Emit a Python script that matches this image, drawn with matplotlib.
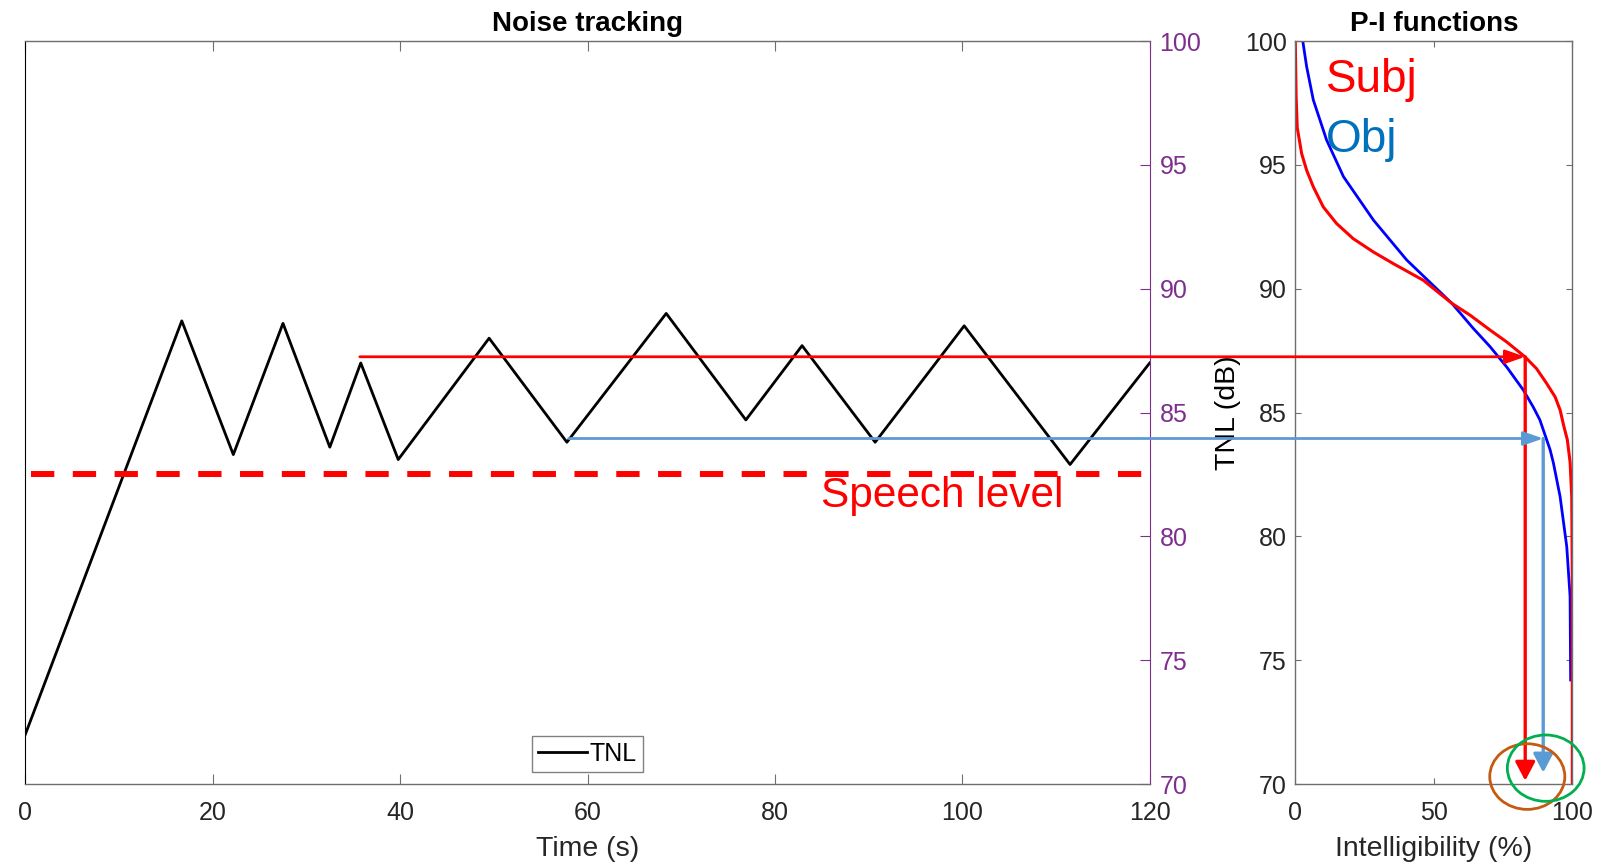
import matplotlib
matplotlib.use('Agg')
import matplotlib.pyplot as plt
from matplotlib.patches import ConnectionPatch, Ellipse

plt.rcParams['font.family'] = ['Liberation Sans', 'DejaVu Sans']

# tracked noise level over time
tnl_time = [0, 16.7, 22.2, 27.5, 32.5, 35.8, 39.8, 49.5, 57.8, 68.4,
            76.9, 82.9, 90.7, 100.2, 111.5, 120]
tnl_level = [72.0, 88.7, 83.3, 88.6, 83.6, 87.0, 83.1, 88.0, 83.8, 89.0,
             84.7, 87.7, 83.8, 88.5, 82.9, 87.0]
speech_level = 82.5

# P-I functions (intelligibility %, TNL dB)
subj_pct = [0, 0.3, 0.7, 2.3, 4.1, 6.5, 10.1, 14.9, 20.9, 28.2, 35.4, 46.2,
            56.5, 63.1, 70.3, 76.3, 82.9, 87.1, 90.7, 93.8, 95.6, 97.0,
            98.2, 99.2, 99.8, 100, 100]
subj_db = [100, 97.75, 96.5, 95.45, 94.78, 94.11, 93.3, 92.63, 92.02, 91.48,
           91.01, 90.34, 89.41, 88.93, 88.33, 87.85, 87.25, 86.77, 86.18,
           85.63, 85.1, 84.42, 83.9, 83.0, 81.6, 78.0, 70]
obj_pct = [2.7, 4.1, 6.5, 11.3, 17.4, 28.2, 40.2, 56.5, 64.3, 70.3, 76.3,
           82.3, 85.9, 88.3, 92.0, 93.2, 95.6, 98.0, 99.2, 99.4]
obj_db = [100, 98.96, 97.62, 96.0, 94.52, 92.77, 91.16, 89.41, 88.39, 87.66,
          86.84, 85.91, 85.22, 84.7, 83.49, 82.95, 81.6, 79.58, 77.57, 74.2]

# readout arrows: start time, level, intelligibility, arrow floor
subj_read = (35.7, 87.25, 83.0, 70.13)
obj_read = (58.0, 83.95, 89.5, 70.46)

purple = '#7E2F8E'
axcol = '#6e6e6e'
txtcol = '#262626'

fig = plt.figure(figsize=(15.97, 8.65), dpi=100)
W, H = 1597, 865
ax1 = fig.add_axes([25.3 / W, 81 / H, 1124.4 / W, 743 / H])
ax2 = fig.add_axes([1295.3 / W, 81 / H, 277 / W, 743 / H])

# ---- left: noise tracking ----
ax1.plot(tnl_time, tnl_level, color='black', lw=2, label='TNL')
ax1.plot([0.6, 120], [speech_level, speech_level], color='red', lw=4.3,
         dashes=(3.9, 3.1))
ax1.text(84.9, 81.2, 'Speech level', color='red', fontsize=30.5,
         va='baseline', ha='left')
ax1.set_xlim(0, 120)
ax1.set_ylim(70, 100)
ax1.set_xticks(range(0, 121, 20))
ax1.set_yticks(range(70, 101, 5))
ax1.yaxis.tick_right()
ax1.tick_params(axis='x', direction='in', length=7, width=0.8, color=axcol,
                labelsize=18, labelcolor=txtcol, pad=12.5, top=True)
ax1.tick_params(axis='y', direction='in', length=7, width=0.8, color=purple,
                labelsize=18, labelcolor=purple, pad=7, left=False,
                right=True)
for s in ['top', 'bottom']:
    ax1.spines[s].set_color(axcol)
    ax1.spines[s].set_linewidth(1)
ax1.spines['left'].set_color('black')
ax1.spines['right'].set_color(purple)
ax1.spines['right'].set_linewidth(0.8)
ax1.set_xlabel('Time (s)', fontsize=20.5, color=txtcol, labelpad=8)
ax1.set_title('Noise tracking', fontsize=20, fontweight='bold', pad=7)
leg = ax1.legend(loc='lower center', bbox_to_anchor=(0.5, 11.7 / 743),
                 borderaxespad=0, fontsize=18, handlelength=1.95,
                 handletextpad=0.1, borderpad=0.25, fancybox=False,
                 framealpha=1)
leg.get_frame().set_edgecolor('#808080')
leg.get_frame().set_linewidth(1)

# ---- right: P-I functions ----
ax2.plot(obj_pct, obj_db, color='blue', lw=2)
ax2.plot(subj_pct, subj_db, color='red', lw=2.2)
ax2.set_xlim(0, 100)
ax2.set_ylim(70, 100)
ax2.set_xticks([0, 50, 100])
ax2.set_yticks(range(70, 101, 5))
ax2.tick_params(direction='in', length=4.5, width=0.8, color=axcol,
                labelsize=18, labelcolor=txtcol, top=True, right=True)
ax2.tick_params(axis='x', pad=12.5)
ax2.tick_params(axis='y', pad=6)
for s in ax2.spines.values():
    s.set_color(axcol)
    s.set_linewidth(1)
ax2.set_xlabel('Intelligibility (%)', fontsize=20.5, color=txtcol, labelpad=8)
ax2.set_ylabel('TNL (dB)', fontsize=20.5, color='black', labelpad=3)
ax2.set_title('P-I functions', fontsize=20, fontweight='bold', pad=7)
ax2.text(11.1, 97.95, 'Subj', color='red', fontsize=33, va='baseline')
ax2.text(11.1, 95.53, 'Obj', color='#0072BD', fontsize=33, va='baseline')

# readout arrows across both panels
for (t0, lvl, pct, floor), col in [(subj_read, 'red'), (obj_read, '#5B9BD5')]:
    con = ConnectionPatch(xyA=(t0, lvl), coordsA=ax1.transData,
                          xyB=(pct, lvl), coordsB=ax2.transData,
                          arrowstyle='-|>,head_length=0.4,head_width=0.14',
                          mutation_scale=30, color=col, lw=2, zorder=5)
    fig.add_artist(con)
    ax2.annotate('', xy=(pct, floor), xytext=(pct, lvl),
                 arrowprops=dict(arrowstyle='-|>,head_length=0.38,head_width=0.2',
                                 mutation_scale=30, color=col, lw=2.4,
                                 shrinkA=0, shrinkB=0),
                 annotation_clip=False, zorder=5)

ax2.add_patch(Ellipse((83.75, 70.3), 27.1, 2.65, fill=False,
                      edgecolor='#C55A11', lw=2, clip_on=False, zorder=6))
ax2.add_patch(Ellipse((90.4, 70.64), 27.7, 2.68, fill=False,
                      edgecolor='#00B050', lw=2, clip_on=False, zorder=6))

fig.savefig('out.png', dpi=100)
